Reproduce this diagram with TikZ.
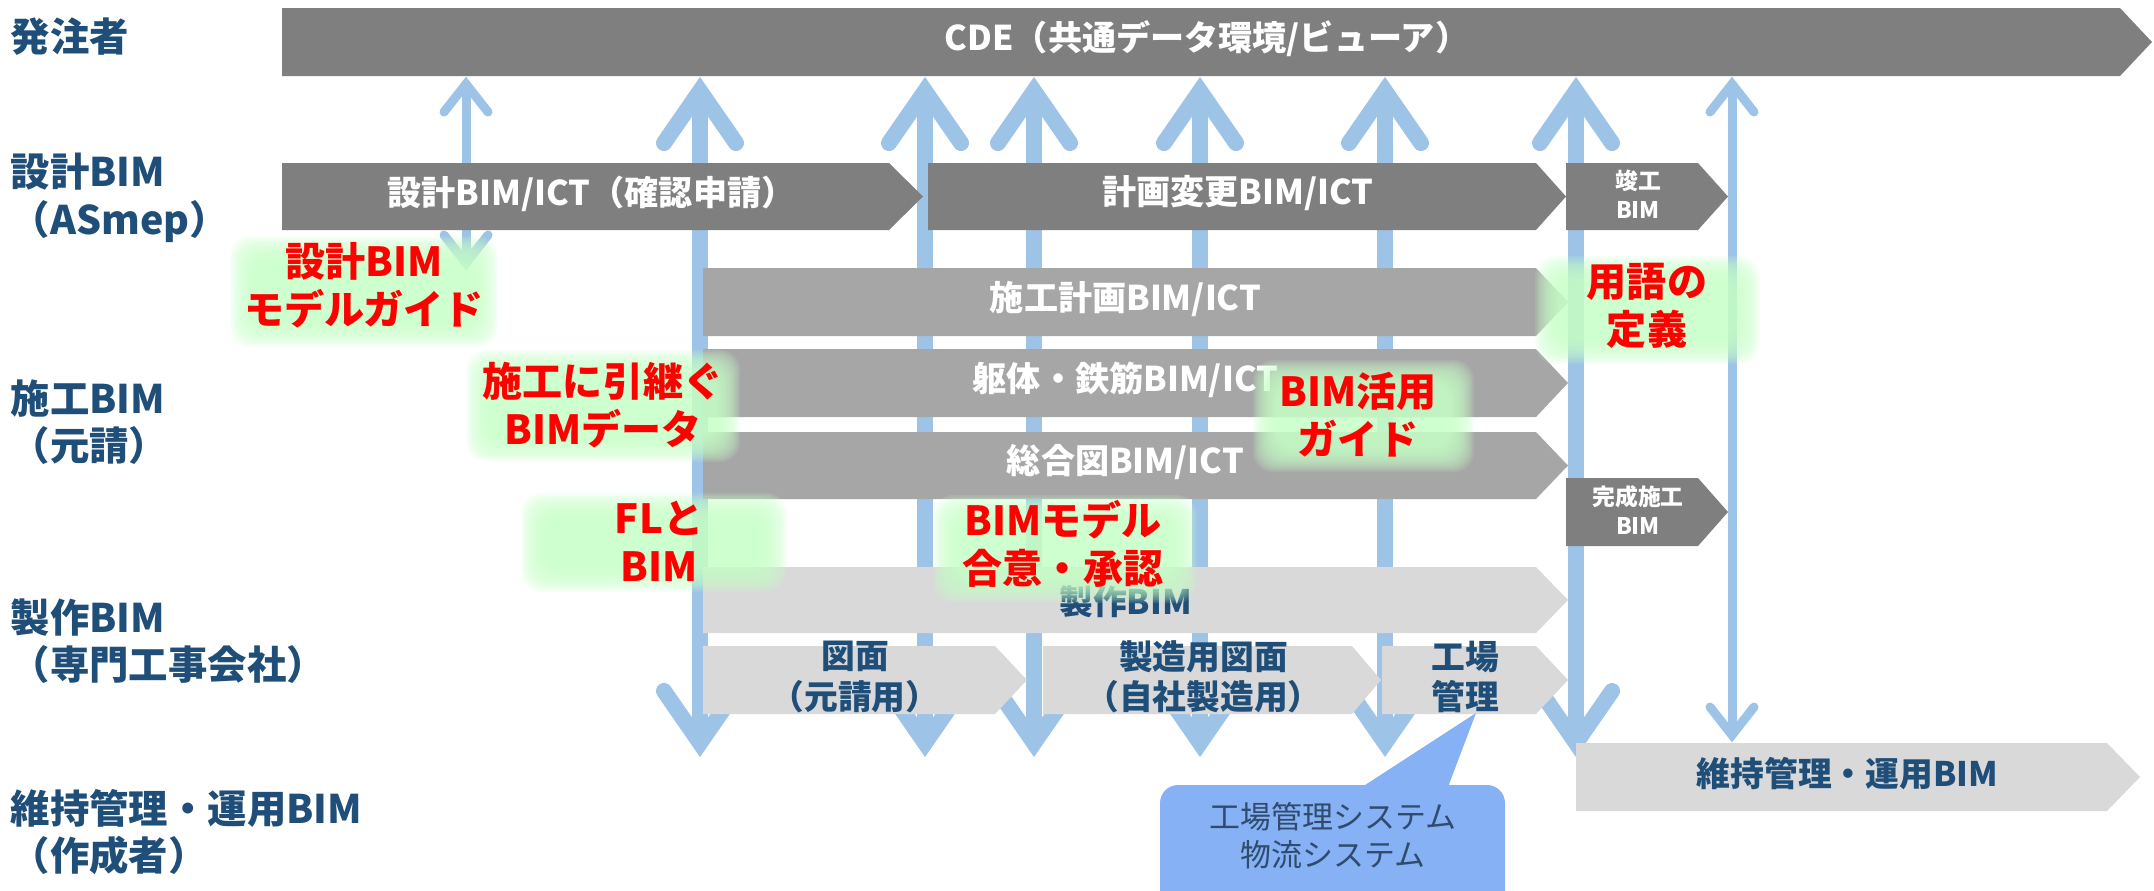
\documentclass[tikz,border=0pt]{standalone}
\usepackage{fontspec}
\setmainfont{Noto Sans CJK JP}
\usetikzlibrary{calc}
\definecolor{dgray}{HTML}{7F7F7F}
\definecolor{mgray}{HTML}{A6A6A6}
\definecolor{lgray}{HTML}{D9D9D9}
\definecolor{abl}{HTML}{9DC3E6}
\definecolor{navy}{HTML}{1F4E79}
\definecolor{callfill}{HTML}{86B1F5}
\definecolor{calltext}{HTML}{2F4B6E}
\definecolor{glowc}{HTML}{C8FFC8}
\definecolor{redc}{HTML}{FF0000}
% home plate: #1 name, #2 x1, #3 rect end, #4 tip x, #5 y1, #6 y2, #7 fill, #8 text y-offset
\newcommand\hplate[8]{%
  \fill[#7] (#2,#5) -- (#3,#5) -- (#4,{(#5+#6)/2}) -- (#3,#6) -- (#2,#6) -- cycle;
  \coordinate (#1) at ({(#2+#3)/2+6},{(#5+#6)/2+#8});
}
\newcommand\glowbox[4]{%
  \foreach \k in {0,...,15}{%
    \fill[glowc, opacity=0.13, rounded corners=0.2cm] ({#1+\k*1.6},{#2+\k*1.6}) rectangle ({#3-\k*1.6},{#4-\k*1.6});
  }}
\tikzset{
  lbl/.style={text=navy, font=\bfseries\fontsize{11.2}{13.5}\selectfont, align=left, anchor=west, inner sep=0pt},
  redtxt/.style={text=redc, font=\bfseries\fontsize{11.4}{13.7}\selectfont, align=center, inner sep=0pt},
  wtxt/.style={text=white, font=\bfseries\fontsize{9.7}{11.6}\selectfont, inner sep=0pt},
  stxt/.style={text=white, font=\bfseries\fontsize{6.5}{8.3}\selectfont, align=center, inner sep=0pt},
  btxt/.style={text=navy, font=\bfseries\fontsize{9.6}{11.4}\selectfont, align=center, inner sep=0pt},
  ctxt/.style={text=calltext, font=\fontsize{8.8}{10.8}\selectfont, align=center, inner sep=0pt},
  shaftT/.style={draw=abl, line width=4.55pt},
  headT/.style={draw=abl, line width=4.55pt, line cap=round, line join=miter},
  shaftS/.style={draw=abl, line width=2.56pt},
  headS/.style={draw=abl, line width=2.56pt, line cap=round, line join=miter},
}
\begin{document}
\begin{tikzpicture}[x=0.01cm,y=-0.01cm]
\useasboundingbox (0,0) rectangle (2154,890);
\clip (0,0) rectangle (2154,890);

% ---- thick double arrows ----
\foreach \n/\x in {a/700,b/925,c/1034,d/1200,e/1385,f/1576}{
  \coordinate (T\n) at (\x,91);
  \coordinate (B\n) at (\x,743);
  \draw[shaftT] (T\n) -- (B\n);
  \draw[headT] ($(T\n)+(-36,52)$) -- (T\n) -- ($(T\n)+(36,52)$);
  \draw[headT] ($(B\n)+(-36,-52)$) -- (B\n) -- ($(B\n)+(36,-52)$);
}
% ---- thin double arrows ----
\coordinate (Tg) at (466,84);  \coordinate (Bg) at (466,263);
\coordinate (Th) at (1732,84); \coordinate (Bh) at (1732,735);
\foreach \n in {g,h}{
  \draw[shaftS] (T\n) -- (B\n);
  \draw[headS] ($(T\n)+(-22,28)$) -- (T\n) -- ($(T\n)+(22,28)$);
  \draw[headS] ($(B\n)+(-22,-28)$) -- (B\n) -- ($(B\n)+(22,-28)$);
}

% ---- boxes ----
\hplate{cde}{282}{2120}{2152}{8}{76}{dgray}{-3}
\node[wtxt] (cdeT) at (cde) {CDE（共通データ環境/ビューア）};

\hplate{s1}{282}{889}{923}{163}{230}{dgray}{-3}
\node[wtxt] (s1T) at (s1) {設計BIM/ICT（確認申請）};
\hplate{s2}{928}{1536}{1566}{163}{230}{dgray}{-3}
\node[wtxt] (s2T) at (s2) {計画変更BIM/ICT};
\hplate{s3}{1566}{1698}{1728}{163}{230}{dgray}{-2}
\node[stxt] (s3T) at (s3) {竣工\\BIM};

\hplate{c1}{703}{1536}{1568}{268}{336}{mgray}{-3}
\node[wtxt] (c1T) at (c1) {施工計画BIM/ICT};
\hplate{c2}{703}{1536}{1568}{349}{417}{mgray}{-3}
\node[wtxt] (c2T) at (c2) {躯体・鉄筋BIM/ICT};
\hplate{c3}{703}{1536}{1568}{432}{499}{mgray}{-3}
\node[wtxt] (c3T) at (c3) {総合図BIM/ICT};
\hplate{c4}{1566}{1698}{1728}{478}{546}{dgray}{-2}
\node[stxt] (c4T) at (c4) {完成施工\\BIM};

\hplate{f1}{703}{1536}{1568}{567}{633}{lgray}{2}
\node[btxt] (f1T) at (f1) {製作BIM};
\hplate{f2}{703}{995}{1027}{646}{714}{lgray}{-3}
\node[btxt] (f2T) at (f2) {図面\\（元請用）};
\hplate{f3}{1043}{1352}{1381}{646}{714}{lgray}{-3}
\node[btxt] (f3T) at (f3) {製造用図面\\（自社製造用）};
\hplate{f4}{1382}{1536}{1568}{646}{714}{lgray}{-3}
\node[btxt] (f4T) at (f4) {工場\\管理};

\hplate{m1}{1576}{2107}{2140}{743}{811}{lgray}{-3}
\node[btxt] (m1T) at (m1) {維持管理・運用BIM};

% ---- callout ----
\fill[callfill, rounded corners=0.18cm] (1160,785) rectangle (1505,930);
\coordinate (ptip) at (1476,713);
\fill[callfill] (1362,787) -- (ptip) -- (1448,787) -- cycle;
\node[ctxt] (callT) at (1333,836) {工場管理システム\\物流システム};

% ---- glows ----
\glowbox{230}{236}{498}{347}
\glowbox{466}{350}{740}{462}
\glowbox{521}{493}{787}{592}
\glowbox{933}{495}{1197}{603}
\glowbox{1253}{360}{1474}{472}
\glowbox{1535}{256}{1760}{364}

% ---- red notes ----
\node[redtxt] (r1) at (364,285) {設計BIM\\モデルガイド};
\node[redtxt] (r2) at (603,405) {施工に引継ぐ\\BIMデータ};
\node[redtxt] (r3) at (659,541) {FLと\\BIM};
\node[redtxt] (r4) at (1063,544) {BIMモデル\\合意・承認};
\node[redtxt] (r5) at (1358,415) {BIM活用\\ガイド};
\node[redtxt] (r6) at (1647,306) {用語の\\定義};

% ---- row labels ----
\node[lbl] (l0) at (10,37) {発注者};
\node[lbl] (l1) at (10,198) {設計BIM\\（ASmep）};
\node[lbl] (l2) at (10,422) {施工BIM\\（元請）};
\node[lbl] (l3) at (10,641) {製作BIM\\（専門工事会社）};
\node[lbl] (l4) at (10,832) {維持管理・運用BIM\\（作成者）};
\end{tikzpicture}
\end{document}
